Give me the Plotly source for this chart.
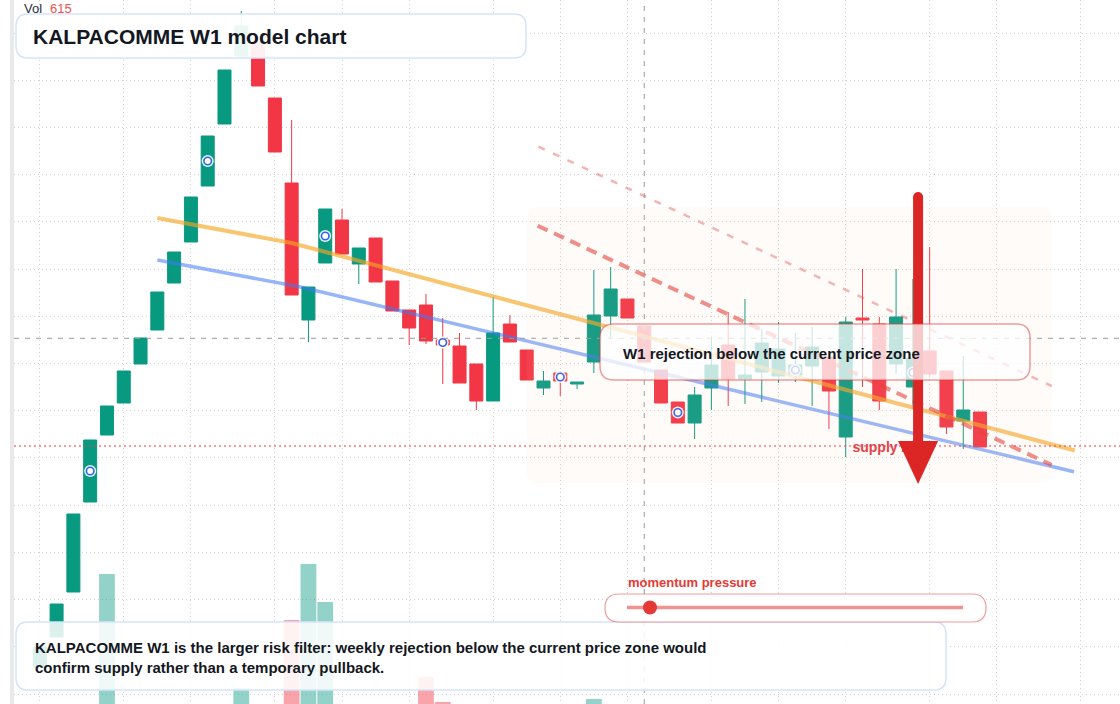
import plotly.graph_objects as go

# ---------------- data ----------------
weeks = list(range(57))
open_ = [23.7, 26.7, 31.2, 40.2, 46.9, 50.1, 54.0, 57.4, 62.1, 66.2, 71.8, 78.0, 84.8, 86.2, 80.6, 72.1,
         58.4, 64.1, 68.4, 64.0, 66.6, 62.3, 59.4, 59.9, 56.4, 55.8, 54.0, 50.3, 58.0, 55.4, 51.6, 53.1,
         52.0, 54.2, 58.8, 60.5, 57.8, 53.4, 50.2, 48.1, 51.6, 55.9, 52.5, 53.2, 52.8, 52.9, 53.8, 54.7,
         46.7, 58.6, 58.0, 54.0, 51.7, 55.3, 53.3, 48.3, 49.2]
high = [25.7, 30.0, 39.0, 46.4, 49.8, 53.3, 56.6, 61.2, 65.2, 70.7, 76.8, 83.4, 89.3, 86.2, 80.6, 78.4,
        61.7, 69.5, 69.5, 65.6, 66.6, 62.3, 59.4, 61.0, 58.6, 57.1, 54.0, 60.7, 58.9, 55.4, 53.3, 53.3,
        52.2, 63.4, 63.7, 60.5, 57.8, 53.4, 50.2, 51.7, 56.7, 59.2, 60.5, 57.5, 58.2, 57.1, 57.7, 54.7,
        58.7, 63.5, 58.7, 63.5, 62.5, 65.7, 53.3, 54.8, 49.2]
low = [23.7, 26.7, 31.2, 40.2, 46.9, 50.1, 54.0, 57.4, 62.1, 66.2, 71.8, 78.0, 84.8, 81.8, 75.2, 60.9,
       56.2, 64.1, 65.0, 62.0, 62.2, 59.3, 55.9, 56.0, 52.0, 52.1, 49.4, 50.3, 56.2, 52.4, 50.9, 50.8,
       51.5, 53.1, 56.6, 58.6, 54.2, 50.1, 48.1, 46.5, 49.4, 49.8, 50.0, 50.2, 52.1, 52.2, 49.8, 47.5,
       44.7, 51.7, 49.4, 53.0, 49.5, 52.6, 47.0, 45.5, 45.7]
close = [25.7, 30.0, 39.0, 46.4, 49.8, 53.3, 56.6, 61.2, 65.2, 70.7, 76.8, 83.4, 87.8, 81.8, 75.2, 60.9,
         61.7, 69.5, 65.0, 65.6, 62.2, 59.3, 57.6, 56.3, 55.9, 52.1, 50.3, 57.1, 56.2, 52.4, 52.3, 52.3,
         52.2, 58.9, 61.5, 58.6, 54.2, 50.1, 48.1, 50.9, 53.9, 52.5, 52.9, 56.1, 55.5, 53.9, 55.7, 51.3,
         58.2, 58.4, 50.3, 58.7, 54.6, 53.0, 47.7, 49.4, 45.7]
volume = [420, 455, 470, 490, 630, 480, 460, 470, 475, 488, 495, 492, 516, 470, 485, 584,
          640, 602, 465, 430, 450, 440, 460, 527, 502, 470, 480, 495, 440, 420, 380, 395,
          370, 505, 470, 430, 450, 440, 460, 475, 440, 430, 410, 420, 415, 400, 410, 430,
          470, 440, 455, 445, 460, 430, 450, 420, 440]
signal_weeks = [3, 10, 17, 24, 31, 38, 45, 52]
month_start_weeks = [0, 5, 9, 14, 18, 22, 27, 31, 35, 40, 44, 48, 53, 57, 62]
price_gridlines = [21.0, 25.721, 30.442, 35.163, 39.884, 44.605, 49.326, 54.047, 58.768,
                   63.489, 68.21, 72.931, 77.652, 82.373, 87.094]

upper_trend_x = [7, 15, 61.65]
upper_trend_y = [68.6, 66.1, 45.35]
lower_trend_x = [7, 15.6, 61.6]
lower_trend_y = [64.4, 61.67, 43.23]
channel_x = [29.65, 60.27]
channel_main = [67.83, 43.9]
channel_outer_x = [29.70, 60.27]
channel_outer = [75.73, 51.8]
crosshair_week = 36
crosshair_price = 56.57
supply_level = 45.8
zone = dict(x0=29.0, x1=60.3, top=69.7, bottom=42.1)
arrow_week = 52.31
arrow_top = 70.7
arrow_head_base = 46.3
arrow_tip = 42.0
supply_label = dict(week=48.4, price=45.6, text="supply zone")
vol_value = "615"

title_text = "KALPACOMME W1 model chart"
note_lines = ["KALPACOMME W1 is the larger risk filter: weekly rejection below the current price zone would",
              "confirm supply rather than a temporary pullback."]
callout_text = "W1 rejection below the current price zone"
momentum_text = "momentum pressure"

# ---------------- styling ----------------
UP = "#089981"
DOWN = "#f23645"
FONT = "Arial, 'Liberation Sans', sans-serif"
DARK = "#131722"
W, H = 1120, 704
ML = 14
BAR_PX = 16.79
X0_PX = 39.8

fig = go.Figure()

vol_colors = ["rgba(8,153,129,0.44)" if c >= o else "rgba(242,54,69,0.46)" for o, c in zip(open_, close)]
fig.add_trace(go.Bar(x=weeks, y=volume, yaxis="y2", width=0.94,
                     marker=dict(color=vol_colors, line=dict(width=0)), hoverinfo="skip"))

fig.add_trace(go.Candlestick(x=weeks, open=open_, high=high, low=low, close=close,
                             increasing=dict(line=dict(color=UP, width=1), fillcolor=UP),
                             decreasing=dict(line=dict(color=DOWN, width=1), fillcolor=DOWN),
                             whiskerwidth=0, hoverinfo="skip"))

fig.add_trace(go.Scatter(x=upper_trend_x, y=upper_trend_y, mode="lines",
                         line=dict(color="rgba(245,166,35,0.65)", width=4), hoverinfo="skip"))
fig.add_trace(go.Scatter(x=lower_trend_x, y=lower_trend_y, mode="lines",
                         line=dict(color="rgba(66,120,244,0.55)", width=3.5), hoverinfo="skip"))
fig.add_trace(go.Scatter(x=channel_x, y=channel_main, mode="lines",
                         line=dict(color="rgba(229,57,53,0.6)", width=4, dash="11px,7px"), hoverinfo="skip"))
fig.add_trace(go.Scatter(x=channel_outer_x, y=channel_outer, mode="lines",
                         line=dict(color="rgba(229,57,53,0.38)", width=2.5, dash="7px,9px"), hoverinfo="skip"))

sig_y = [(open_[i] + close[i]) / 2 for i in signal_weeks]
fig.add_trace(go.Scatter(x=signal_weeks, y=sig_y, mode="markers",
                         marker=dict(size=12, color="rgba(255,255,255,0.9)", line=dict(width=0)), hoverinfo="skip"))
fig.add_trace(go.Scatter(x=signal_weeks, y=sig_y, mode="markers",
                         marker=dict(size=7.5, color="white", line=dict(color="#2f62ee", width=1.6)), hoverinfo="skip"))

fig.add_trace(go.Scatter(x=[supply_label["week"]], y=[supply_label["price"]], mode="text",
                         text=["<b>" + supply_label["text"] + "</b>"], textposition="middle right",
                         textfont=dict(size=14, color="#e0393e", family=FONT), hoverinfo="skip"))


# ---------------- helpers ----------------
def px_round_path(x0, y0, x1, y1, r):
    X0, X1 = x0 - ML, x1 - ML
    Y0, Y1 = -y0, -y1
    return (f"M {X0 + r},{Y0} L {X1 - r},{Y0} Q {X1},{Y0} {X1},{Y0 - r} "
            f"L {X1},{Y1 + r} Q {X1},{Y1} {X1 - r},{Y1} L {X0 + r},{Y1} Q {X0},{Y1} {X0},{Y1 + r} "
            f"L {X0},{Y0 - r} Q {X0},{Y0} {X0 + r},{Y0} Z")


def px_shape(path, fill, line_color, line_width):
    return dict(type="path", xref="paper", yref="paper", xsizemode="pixel", ysizemode="pixel",
                xanchor=0, yanchor=1, path=path, fillcolor=fill,
                line=dict(color=line_color, width=line_width), layer="above")


def data_round_path(x0, x1, top, bottom, rx, ry):
    return (f"M {x0 + rx},{top} L {x1 - rx},{top} Q {x1},{top} {x1},{top - ry} "
            f"L {x1},{bottom + ry} Q {x1},{bottom} {x1 - rx},{bottom} L {x0 + rx},{bottom} "
            f"Q {x0},{bottom} {x0},{bottom + ry} L {x0},{top - ry} Q {x0},{top} {x0 + rx},{top} Z")


def pfx(px):
    return (px - ML) / (W - ML)


def pfy(py):
    return 1 - py / H


shapes = []
# left price-scale strip
shapes.append(px_shape(f"M {-4},0 L 0,0 L 0,{-H} L {-4},{-H} Z", "#e9e9e9", "rgba(0,0,0,0)", 0))
# crosshair
shapes.append(dict(type="line", xref="x", yref="paper", x0=crosshair_week, x1=crosshair_week, y0=0, y1=1,
                   line=dict(color="#9a9a9a", width=1, dash="5px,6px"), layer="above"))
shapes.append(dict(type="line", xref="paper", yref="y", x0=0, x1=1, y0=crosshair_price, y1=crosshair_price,
                   line=dict(color="#9a9a9a", width=1, dash="5px,6px"), layer="above"))
# supply level
shapes.append(dict(type="line", xref="paper", yref="y", x0=0, x1=1, y0=supply_level, y1=supply_level,
                   line=dict(color="#f23645", width=1.2, dash="2px,3px"), layer="above"))
# zone
shapes.append(dict(type="path", xref="x", yref="y",
                   path=data_round_path(zone["x0"], zone["x1"], zone["top"], zone["bottom"], 12 / BAR_PX, 1.2),
                   fillcolor="rgba(240,200,180,0.08)", line=dict(width=0), layer="above"))
# arrow
shapes.append(dict(type="line", xref="x", yref="y", x0=arrow_week, x1=arrow_week, y0=arrow_top,
                   y1=arrow_head_base - 0.5, line=dict(color="#dc2626", width=10), layer="above"))
shapes.append(dict(type="circle", xref="x", yref="y", xsizemode="pixel", ysizemode="pixel",
                   xanchor=arrow_week, yanchor=arrow_top, x0=-5, x1=5, y0=-5, y1=5,
                   fillcolor="#dc2626", line=dict(width=0), layer="above"))
hw = 20 / BAR_PX
shapes.append(dict(type="path", xref="x", yref="y",
                   path=f"M {arrow_week - hw},{arrow_head_base} L {arrow_week + hw},{arrow_head_base} "
                        f"L {arrow_week},{arrow_tip} Z",
                   fillcolor="#dc2626", line=dict(width=0), layer="above"))
# boxes
shapes.append(px_shape(px_round_path(16, 14, 526, 58, 12), "rgba(255,255,255,0.92)", "#d5e3fa", 1.5))
shapes.append(px_shape(px_round_path(600, 324, 1030, 380, 14), "rgba(255,255,255,0.75)",
                       "rgba(229,57,53,0.5)", 1.5))
shapes.append(px_shape(px_round_path(16, 622, 946, 690, 12), "rgba(255,255,255,0.86)", "#d5e3fa", 1.5))
shapes.append(px_shape(px_round_path(605, 594, 986, 622, 14), "rgba(255,255,255,1)",
                       "rgba(229,57,53,0.5)", 1.2))
shapes.append(px_shape(f"M {627 - ML},{-607.5} L {963 - ML},{-607.5}", "rgba(0,0,0,0)",
                       "rgba(229,57,53,0.55)", 3.5))
shapes.append(dict(type="circle", xref="paper", yref="paper", xsizemode="pixel", ysizemode="pixel",
                   xanchor=0, yanchor=1, x0=650 - ML - 7, x1=650 - ML + 7, y0=-607.5 - 7, y1=-607.5 + 7,
                   fillcolor="#e53935", line=dict(width=0), layer="above"))

annotations = [
    dict(x=pfx(31), y=pfy(36), text="<b>" + title_text + "</b>", font=dict(size=21, color=DARK, family=FONT)),
    dict(x=pfx(22), y=pfy(8.5), text="Vol", font=dict(size=13, color="#2a2e39", family=FONT)),
    dict(x=pfx(48), y=pfy(8.5), text=vol_value, font=dict(size=13, color="#ef5350", family=FONT)),
    dict(x=pfx(621), y=pfy(353), text="<b>" + callout_text + "</b>", font=dict(size=15, color=DARK, family=FONT)),
    dict(x=pfx(33), y=pfy(657), text="<br>".join("<b>" + t + "</b>" for t in note_lines), align="left",
         font=dict(size=15, color=DARK, family=FONT)),
    dict(x=pfx(626), y=pfy(582.5), text="<b>" + momentum_text + "</b>", font=dict(size=13, color="#e53935", family=FONT)),
]
for a in annotations:
    a.update(xref="paper", yref="paper", xanchor="left", yanchor="middle", showarrow=False)

grid = dict(showgrid=True, gridcolor="#d2d2d2", gridwidth=1, griddash="1px,3px",
            showticklabels=False, ticks="", zeroline=False, showline=False, tickmode="array")

fig.update_layout(
    width=W, height=H,
    margin=dict(l=ML, r=0, t=0, b=0),
    paper_bgcolor="white", plot_bgcolor="white",
    showlegend=False,
    boxgap=0.226, boxgroupgap=0,
    xaxis=dict(range=[(ML - X0_PX) / BAR_PX, (W - X0_PX) / BAR_PX],
               tickvals=month_start_weeks, rangeslider=dict(visible=False), **grid),
    yaxis=dict(range=[20.0, 90.4], tickvals=price_gridlines, **grid),
    yaxis2=dict(overlaying="y", range=[500, 1204], visible=False, showgrid=False),
    shapes=shapes,
    annotations=annotations,
    hovermode=False,
)

fig.write_html("out.html", config={"displayModeBar": False})
